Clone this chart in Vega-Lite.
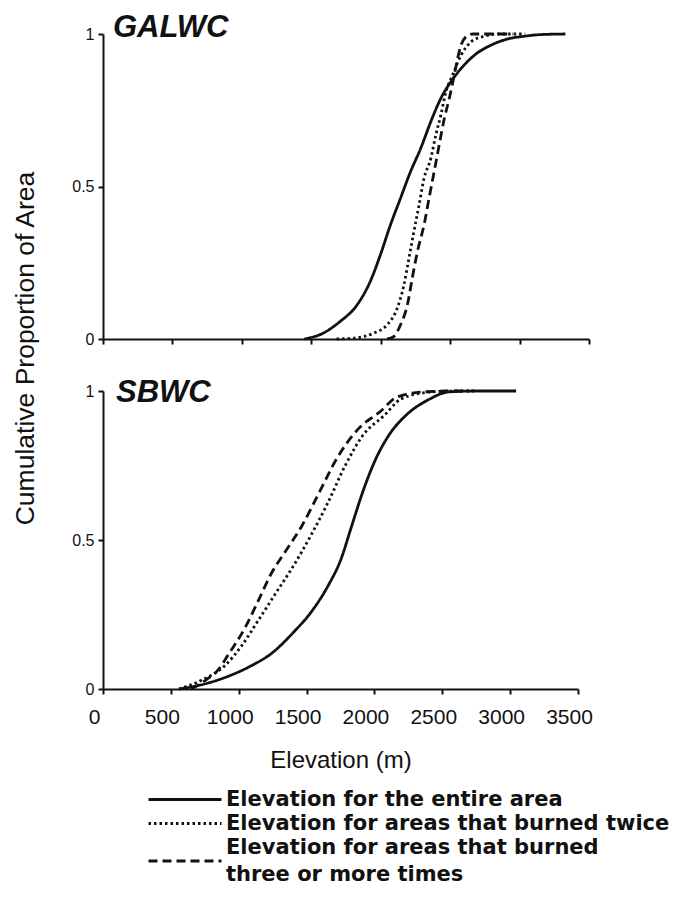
{
  "$schema": "https://vega.github.io/schema/vega-lite/v6.json",
  "padding": {"left": 12, "top": 12, "right": 0, "bottom": 0},
  "background": "white",
  "bounds": "flush",
  "spacing": 52,
  "config": {
    "view": {"stroke": null},
    "axis": {"grid": false, "domainColor": "#111", "tickColor": "#111", "labelColor": "#111", "titleColor": "#111", "domainWidth": 2, "tickWidth": 2, "tickSize": 5, "labelFlush": false, "labelOverlap": false, "labelBound": false},
    "style": {"guide-label": {"lineHeight": 27}}
  },
  "data": {
    "values": [
      {"panel": "GALWC", "series": "Elevation for the entire area", "elev": 1450, "p": 0},
      {"panel": "GALWC", "series": "Elevation for the entire area", "elev": 1585, "p": 0.019},
      {"panel": "GALWC", "series": "Elevation for the entire area", "elev": 1706, "p": 0.057},
      {"panel": "GALWC", "series": "Elevation for the entire area", "elev": 1827, "p": 0.11},
      {"panel": "GALWC", "series": "Elevation for the entire area", "elev": 1924, "p": 0.188},
      {"panel": "GALWC", "series": "Elevation for the entire area", "elev": 1997, "p": 0.275},
      {"panel": "GALWC", "series": "Elevation for the entire area", "elev": 2070, "p": 0.374},
      {"panel": "GALWC", "series": "Elevation for the entire area", "elev": 2142, "p": 0.461},
      {"panel": "GALWC", "series": "Elevation for the entire area", "elev": 2215, "p": 0.549},
      {"panel": "GALWC", "series": "Elevation for the entire area", "elev": 2288, "p": 0.625},
      {"panel": "GALWC", "series": "Elevation for the entire area", "elev": 2361, "p": 0.713},
      {"panel": "GALWC", "series": "Elevation for the entire area", "elev": 2433, "p": 0.789},
      {"panel": "GALWC", "series": "Elevation for the entire area", "elev": 2506, "p": 0.844},
      {"panel": "GALWC", "series": "Elevation for the entire area", "elev": 2579, "p": 0.887},
      {"panel": "GALWC", "series": "Elevation for the entire area", "elev": 2676, "p": 0.931},
      {"panel": "GALWC", "series": "Elevation for the entire area", "elev": 2797, "p": 0.964},
      {"panel": "GALWC", "series": "Elevation for the entire area", "elev": 2918, "p": 0.984},
      {"panel": "GALWC", "series": "Elevation for the entire area", "elev": 3039, "p": 0.993},
      {"panel": "GALWC", "series": "Elevation for the entire area", "elev": 3150, "p": 0.998},
      {"panel": "GALWC", "series": "Elevation for the entire area", "elev": 3330, "p": 1.0},

      {"panel": "GALWC", "series": "Elevation for areas that burned twice", "elev": 1682, "p": 0},
      {"panel": "GALWC", "series": "Elevation for areas that burned twice", "elev": 1827, "p": 0.004},
      {"panel": "GALWC", "series": "Elevation for areas that burned twice", "elev": 1948, "p": 0.019},
      {"panel": "GALWC", "series": "Elevation for areas that burned twice", "elev": 2045, "p": 0.046},
      {"panel": "GALWC", "series": "Elevation for areas that burned twice", "elev": 2118, "p": 0.10},
      {"panel": "GALWC", "series": "Elevation for areas that burned twice", "elev": 2167, "p": 0.177},
      {"panel": "GALWC", "series": "Elevation for areas that burned twice", "elev": 2203, "p": 0.264},
      {"panel": "GALWC", "series": "Elevation for areas that burned twice", "elev": 2239, "p": 0.352},
      {"panel": "GALWC", "series": "Elevation for areas that burned twice", "elev": 2276, "p": 0.439},
      {"panel": "GALWC", "series": "Elevation for areas that burned twice", "elev": 2312, "p": 0.527},
      {"panel": "GALWC", "series": "Elevation for areas that burned twice", "elev": 2361, "p": 0.592},
      {"panel": "GALWC", "series": "Elevation for areas that burned twice", "elev": 2397, "p": 0.669},
      {"panel": "GALWC", "series": "Elevation for areas that burned twice", "elev": 2433, "p": 0.734},
      {"panel": "GALWC", "series": "Elevation for areas that burned twice", "elev": 2470, "p": 0.811},
      {"panel": "GALWC", "series": "Elevation for areas that burned twice", "elev": 2518, "p": 0.866},
      {"panel": "GALWC", "series": "Elevation for areas that burned twice", "elev": 2579, "p": 0.931},
      {"panel": "GALWC", "series": "Elevation for areas that burned twice", "elev": 2652, "p": 0.975},
      {"panel": "GALWC", "series": "Elevation for areas that burned twice", "elev": 2748, "p": 0.993},
      {"panel": "GALWC", "series": "Elevation for areas that burned twice", "elev": 2845, "p": 1.0},
      {"panel": "GALWC", "series": "Elevation for areas that burned twice", "elev": 3040, "p": 1.0},

      {"panel": "GALWC", "series": "Elevation for areas that burned three or more times", "elev": 2045, "p": 0},
      {"panel": "GALWC", "series": "Elevation for areas that burned three or more times", "elev": 2094, "p": 0.008},
      {"panel": "GALWC", "series": "Elevation for areas that burned three or more times", "elev": 2142, "p": 0.046},
      {"panel": "GALWC", "series": "Elevation for areas that burned three or more times", "elev": 2191, "p": 0.11},
      {"panel": "GALWC", "series": "Elevation for areas that burned three or more times", "elev": 2227, "p": 0.199},
      {"panel": "GALWC", "series": "Elevation for areas that burned three or more times", "elev": 2264, "p": 0.286},
      {"panel": "GALWC", "series": "Elevation for areas that burned three or more times", "elev": 2312, "p": 0.374},
      {"panel": "GALWC", "series": "Elevation for areas that burned three or more times", "elev": 2348, "p": 0.461},
      {"panel": "GALWC", "series": "Elevation for areas that burned three or more times", "elev": 2385, "p": 0.549},
      {"panel": "GALWC", "series": "Elevation for areas that burned three or more times", "elev": 2421, "p": 0.636},
      {"panel": "GALWC", "series": "Elevation for areas that burned three or more times", "elev": 2458, "p": 0.723},
      {"panel": "GALWC", "series": "Elevation for areas that burned three or more times", "elev": 2494, "p": 0.789},
      {"panel": "GALWC", "series": "Elevation for areas that burned three or more times", "elev": 2530, "p": 0.866},
      {"panel": "GALWC", "series": "Elevation for areas that burned three or more times", "elev": 2554, "p": 0.92},
      {"panel": "GALWC", "series": "Elevation for areas that burned three or more times", "elev": 2579, "p": 0.964},
      {"panel": "GALWC", "series": "Elevation for areas that burned three or more times", "elev": 2615, "p": 0.991},
      {"panel": "GALWC", "series": "Elevation for areas that burned three or more times", "elev": 2664, "p": 1.0},
      {"panel": "GALWC", "series": "Elevation for areas that burned three or more times", "elev": 2950, "p": 1.0},

      {"panel": "SBWC", "series": "Elevation for the entire area", "elev": 560, "p": 0},
      {"panel": "SBWC", "series": "Elevation for the entire area", "elev": 733, "p": 0.015},
      {"panel": "SBWC", "series": "Elevation for the entire area", "elev": 924, "p": 0.043},
      {"panel": "SBWC", "series": "Elevation for the entire area", "elev": 1084, "p": 0.076},
      {"panel": "SBWC", "series": "Elevation for the entire area", "elev": 1243, "p": 0.12},
      {"panel": "SBWC", "series": "Elevation for the entire area", "elev": 1403, "p": 0.19},
      {"panel": "SBWC", "series": "Elevation for the entire area", "elev": 1530, "p": 0.256},
      {"panel": "SBWC", "series": "Elevation for the entire area", "elev": 1658, "p": 0.346},
      {"panel": "SBWC", "series": "Elevation for the entire area", "elev": 1753, "p": 0.435},
      {"panel": "SBWC", "series": "Elevation for the entire area", "elev": 1833, "p": 0.548},
      {"panel": "SBWC", "series": "Elevation for the entire area", "elev": 1913, "p": 0.66},
      {"panel": "SBWC", "series": "Elevation for the entire area", "elev": 2008, "p": 0.77},
      {"panel": "SBWC", "series": "Elevation for the entire area", "elev": 2104, "p": 0.85},
      {"panel": "SBWC", "series": "Elevation for the entire area", "elev": 2231, "p": 0.918},
      {"panel": "SBWC", "series": "Elevation for the entire area", "elev": 2391, "p": 0.969},
      {"panel": "SBWC", "series": "Elevation for the entire area", "elev": 2550, "p": 0.997},
      {"panel": "SBWC", "series": "Elevation for the entire area", "elev": 2741, "p": 1.0},
      {"panel": "SBWC", "series": "Elevation for the entire area", "elev": 3044, "p": 1.0},

      {"panel": "SBWC", "series": "Elevation for areas that burned twice", "elev": 560, "p": 0},
      {"panel": "SBWC", "series": "Elevation for areas that burned twice", "elev": 733, "p": 0.031},
      {"panel": "SBWC", "series": "Elevation for areas that burned twice", "elev": 892, "p": 0.076},
      {"panel": "SBWC", "series": "Elevation for areas that burned twice", "elev": 1020, "p": 0.144},
      {"panel": "SBWC", "series": "Elevation for areas that burned twice", "elev": 1148, "p": 0.233},
      {"panel": "SBWC", "series": "Elevation for areas that burned twice", "elev": 1275, "p": 0.323},
      {"panel": "SBWC", "series": "Elevation for areas that burned twice", "elev": 1403, "p": 0.413},
      {"panel": "SBWC", "series": "Elevation for areas that burned twice", "elev": 1530, "p": 0.514},
      {"panel": "SBWC", "series": "Elevation for areas that burned twice", "elev": 1658, "p": 0.626},
      {"panel": "SBWC", "series": "Elevation for areas that burned twice", "elev": 1785, "p": 0.75},
      {"panel": "SBWC", "series": "Elevation for areas that burned twice", "elev": 1913, "p": 0.85},
      {"panel": "SBWC", "series": "Elevation for areas that burned twice", "elev": 2072, "p": 0.918},
      {"panel": "SBWC", "series": "Elevation for areas that burned twice", "elev": 2199, "p": 0.974},
      {"panel": "SBWC", "series": "Elevation for areas that burned twice", "elev": 2422, "p": 0.997},
      {"panel": "SBWC", "series": "Elevation for areas that burned twice", "elev": 2614, "p": 1.0},
      {"panel": "SBWC", "series": "Elevation for areas that burned twice", "elev": 2750, "p": 1.0},

      {"panel": "SBWC", "series": "Elevation for areas that burned three or more times", "elev": 650, "p": 0},
      {"panel": "SBWC", "series": "Elevation for areas that burned three or more times", "elev": 760, "p": 0.031},
      {"panel": "SBWC", "series": "Elevation for areas that burned three or more times", "elev": 850, "p": 0.065},
      {"panel": "SBWC", "series": "Elevation for areas that burned three or more times", "elev": 930, "p": 0.12},
      {"panel": "SBWC", "series": "Elevation for areas that burned three or more times", "elev": 1052, "p": 0.21},
      {"panel": "SBWC", "series": "Elevation for areas that burned three or more times", "elev": 1148, "p": 0.30},
      {"panel": "SBWC", "series": "Elevation for areas that burned three or more times", "elev": 1243, "p": 0.39},
      {"panel": "SBWC", "series": "Elevation for areas that burned three or more times", "elev": 1339, "p": 0.458},
      {"panel": "SBWC", "series": "Elevation for areas that burned three or more times", "elev": 1466, "p": 0.548},
      {"panel": "SBWC", "series": "Elevation for areas that burned three or more times", "elev": 1594, "p": 0.66},
      {"panel": "SBWC", "series": "Elevation for areas that burned three or more times", "elev": 1721, "p": 0.772},
      {"panel": "SBWC", "series": "Elevation for areas that burned three or more times", "elev": 1881, "p": 0.873},
      {"panel": "SBWC", "series": "Elevation for areas that burned three or more times", "elev": 2040, "p": 0.93},
      {"panel": "SBWC", "series": "Elevation for areas that burned three or more times", "elev": 2168, "p": 0.98},
      {"panel": "SBWC", "series": "Elevation for areas that burned three or more times", "elev": 2359, "p": 0.997},
      {"panel": "SBWC", "series": "Elevation for areas that burned three or more times", "elev": 2582, "p": 1.0},
      {"panel": "SBWC", "series": "Elevation for areas that burned three or more times", "elev": 2700, "p": 1.0}
    ]
  },
  "vconcat": [
    {
      "width": 486,
      "height": 305,
      "layer": [
        {
          "transform": [{"filter": "datum.panel == 'GALWC'"}],
          "mark": {"type": "line", "interpolate": "monotone", "strokeWidth": 2.8, "color": "#111"},
          "encoding": {
            "x": {"field": "elev", "type": "quantitative", "scale": {"domain": [0, 3500], "nice": false},
                  "axis": {"values": [0, 500, 1000, 1500, 2000, 2500, 3000, 3500], "labels": false, "title": null}},
            "y": {"field": "p", "type": "quantitative", "scale": {"domain": [0, 1], "nice": false},
                  "axis": {"values": [0, 0.5, 1], "labelExpr": "'' + datum.value", "labelFont": "Liberation Sans", "labelFontSize": 16, "labelPadding": 4,
                           "title": "Cumulative Proportion of Area", "titleFont": "Liberation Sans", "titleFontSize": 26.5, "titleFontWeight": "normal",
                           "titleBaseline": "alphabetic", "titleAlign": "center", "titleAngle": -90, "titleX": -70, "titleY": 314}},
            "strokeDash": {"field": "series", "type": "nominal",
                           "scale": {"domain": ["Elevation for the entire area", "Elevation for areas that burned twice", "Elevation for areas that burned three or more times"],
                                     "range": [[1, 0], [2.5, 3], [9, 5]]},
                           "legend": {"orient": "none", "legendX": 35, "legendY": 755, "direction": "vertical", "title": null,
                                      "symbolType": "M0,0H10", "symbolStrokeWidth": 3, "symbolSize": 213, "symbolStrokeColor": "#111", "symbolFillColor": "transparent",
                                      "labelFont": "DejaVu Sans", "labelFontWeight": "bold", "labelFontSize": 21, "labelColor": "#111",
                                      "labelLimit": 700, "labelOffset": 67, "rowPadding": 2,
                                      "labelExpr": "datum.label == 'Elevation for areas that burned three or more times' ? ['Elevation for areas that burned', 'three or more times'] : datum.label",
                                      "encode": {"symbols": {"update": {"y": {"signal": "datum.value == 'Elevation for areas that burned three or more times' ? 24 : 10.5"}}}}}}
          }
        },
        {
          "data": {"values": [{"label": "GALWC"}]},
          "mark": {"type": "text", "font": "Liberation Sans", "fontStyle": "italic", "fontWeight": "bold", "fontSize": 31, "align": "left", "baseline": "alphabetic", "dx": 10, "dy": 3, "color": "#111"},
          "encoding": {"x": {"datum": 0}, "y": {"datum": 1}, "text": {"field": "label"}}
        }
      ]
    },
    {
      "width": 475,
      "height": 298,
      "layer": [
        {
          "transform": [{"filter": "datum.panel == 'SBWC'"}],
          "mark": {"type": "line", "interpolate": "monotone", "strokeWidth": 2.8, "color": "#111"},
          "encoding": {
            "x": {"field": "elev", "type": "quantitative", "scale": {"domain": [0, 3500], "nice": false},
                  "axis": {"values": [0, 500, 1000, 1500, 2000, 2500, 3000, 3500], "format": "d",
                           "labelFont": "Liberation Sans", "labelFontSize": 21, "labelPadding": 12, "labelOffset": -9,
                           "title": "Elevation (m)", "titleFont": "Liberation Sans", "titleFontSize": 24, "titleFontWeight": "normal",
                           "titleBaseline": "alphabetic", "titleY": 78}},
            "y": {"field": "p", "type": "quantitative", "scale": {"domain": [0, 1], "nice": false},
                  "axis": {"values": [0, 0.5, 1], "labelExpr": "'' + datum.value", "labelFont": "Liberation Sans", "labelFontSize": 16, "labelPadding": 4, "title": null}},
            "strokeDash": {"field": "series", "type": "nominal"}
          }
        },
        {
          "data": {"values": [{"label": "SBWC"}]},
          "mark": {"type": "text", "font": "Liberation Sans", "fontStyle": "italic", "fontWeight": "bold", "fontSize": 31, "align": "left", "baseline": "alphabetic", "dx": 13, "dy": 11, "color": "#111"},
          "encoding": {"x": {"datum": 0}, "y": {"datum": 1}, "text": {"field": "label"}}
        }
      ]
    }
  ]
}
